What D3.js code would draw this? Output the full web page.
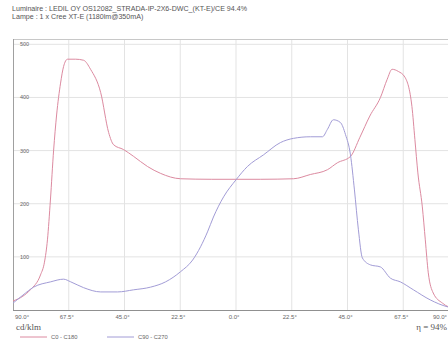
<!DOCTYPE html>
<html>
<head>
<meta charset="utf-8">
<script src="https://cdn.jsdelivr.net/npm/d3@7"></script>
<style>
  html, body { margin: 0; padding: 0; background: #fff; }
  svg { display: block; }
</style>
</head>
<body>
<svg id="chart" width="448" height="343"></svg>
<script>
// Photometric curves in cd/klm, angle in degrees (left half negative)
const headerLines = [
  "Luminaire : LEDIL OY OS12082_STRADA-IP-2X6-DWC_(KT-E)/CE 94.4%",
  "Lampe : 1 x Cree XT-E (1180lm@350mA)"
];
const angleTicks = [-90, -67.5, -45, -22.5, 0, 22.5, 45, 67.5, 90];
const angleTickLabels = ["90.0°", "67.5°", "45.0°", "22.5°", "0.0°", "22.5°", "45.0°", "67.5°", "90.0°"];
const intensityTicks = [100, 200, 300, 400, 500];

const c0Angles = [-90, -86, -83, -78.9, -77.3, -76.1, -74.9, -73.6, -72.4, -70.8, -69.6, -68, -64.7, -61.5, -58.7, -54.6, -51.4, -49.4, -45.4, -41.3, -35.7, -30.4, -22.4, -10, 0, 10, 23.2, 30, 36.9, 40.9, 46.2, 50, 54, 58.3, 61, 63, 65.5, 68.2, 71, 72.2, 73.4, 75.2, 76.4, 77.6, 79.6, 83.3, 85.7, 90];
const c0Values = [17, 26, 38, 66, 90, 132, 207, 301, 367, 427, 458, 472, 472, 470, 453, 409, 334, 311, 302, 289, 270, 257, 247, 246, 246, 246, 247, 255, 264, 277, 289, 325, 365, 400, 434, 453, 449, 438, 383, 321, 258, 194, 132, 70, 32, 13, 6, 2];

const c90Angles = [-90, -86, -81.7, -74.8, -69.6, -66.7, -61.5, -54.6, -47.8, -41.3, -34.5, -28.4, -22.4, -17.5, -14.3, -11.5, -9.1, -5, 0, 4.6, 11.1, 17.9, 23.2, 30, 34.9, 36.9, 39.3, 42.1, 44.2, 46.2, 47.8, 49.4, 51, 54.2, 58.3, 62.3, 66.3, 71.6, 78.4, 85.3, 90];
const c90Values = [13, 28, 43, 53, 58, 53, 42, 34, 34, 38, 43, 53, 72, 94, 119, 147, 175, 213, 245, 270, 292, 315, 323, 326, 326, 340, 358, 353, 330, 292, 226, 151, 98, 85, 81, 60, 53, 38, 19, 6, 2];

const legendLabels = ["C0 - C180", "C90 - C270"];
const seriesColors = ["#dc8aa0", "#a29cd6"];

const svg = d3.select("#chart");
const plot = { left: 13, right: 459, top: 39, bottom: 310 };

const x = d3.scaleLinear().domain([-90, 90]).range([plot.left, plot.right]);
const y = d3.scaleLinear().domain([0, 510]).range([plot.bottom, plot.top]);

// header text
svg.selectAll("text.header").data(headerLines).join("text")
  .attr("class", "header")
  .attr("x", 12).attr("y", (d, i) => 11 + i * 8)
  .attr("font-family", "Liberation Sans, Arial, sans-serif")
  .attr("font-size", 7.1).attr("fill", "#555")
  .text(d => d);

// grid
const grid = svg.append("g");
grid.selectAll("line.h").data(intensityTicks).join("line")
  .attr("x1", plot.left).attr("x2", 448)
  .attr("y1", d => y(d)).attr("y2", d => y(d))
  .attr("stroke", "#e3e3e3").attr("stroke-width", 1);
grid.selectAll("line.v").data(angleTicks.slice(1, -1)).join("line")
  .attr("x1", d => x(d)).attr("x2", d => x(d))
  .attr("y1", plot.top).attr("y2", plot.bottom)
  .attr("stroke", "#e3e3e3").attr("stroke-width", 1);

// frame
svg.append("line").attr("x1", plot.left).attr("x2", 448).attr("y1", plot.top + 0.5).attr("y2", plot.top + 0.5)
  .attr("stroke", "#c8c8c8");
svg.append("line").attr("x1", plot.left + 0.5).attr("x2", plot.left + 0.5).attr("y1", plot.top).attr("y2", plot.bottom)
  .attr("stroke", "#a0a0a0");
svg.append("line").attr("x1", plot.left).attr("x2", 448).attr("y1", plot.bottom + 0.5).attr("y2", plot.bottom + 0.5)
  .attr("stroke", "#909090");

// intensity labels inside the frame
svg.selectAll("text.ylab").data(intensityTicks).join("text")
  .attr("class", "ylab")
  .attr("x", 20).attr("y", d => y(d) + 2)
  .attr("font-family", "Liberation Sans, Arial, sans-serif")
  .attr("font-size", 5.5).attr("fill", "#666")
  .text(d => d);

// angle labels; the two end labels are pulled inside the drawing area
svg.selectAll("text.xlab").data(angleTicks).join("text")
  .attr("class", "xlab")
  .attr("x", (d, i) => i === 0 ? x(d) + 2 : i === angleTicks.length - 1 ? 447 : x(d) - 2)
  .attr("y", 319)
  .attr("text-anchor", (d, i) => i === 0 ? "start" : i === angleTicks.length - 1 ? "end" : "middle")
  .attr("font-family", "Liberation Sans, Arial, sans-serif")
  .attr("font-size", 6).attr("fill", "#666")
  .text((d, i) => angleTickLabels[i]);

// curves
const line = d3.line().x(d => x(d[0])).y(d => y(d[1])).curve(d3.curveMonotoneX);
const series = [
  d3.zip(c0Angles, c0Values),
  d3.zip(c90Angles, c90Values)
];
svg.append("defs").append("clipPath").attr("id", "clip")
  .append("rect").attr("x", plot.left).attr("y", plot.top).attr("width", 448 - plot.left).attr("height", plot.bottom - plot.top);
svg.append("g").attr("clip-path", "url(#clip)")
  .selectAll("path").data(series).join("path")
  .attr("d", line)
  .attr("fill", "none")
  .attr("stroke", (d, i) => seriesColors[i])
  .attr("stroke-width", 1);

// unit and efficiency
svg.append("text").attr("x", 16).attr("y", 330)
  .attr("font-family", "Liberation Serif, Times New Roman, serif")
  .attr("font-size", 9).attr("fill", "#555").text("cd/klm");
svg.append("text").attr("x", 447).attr("y", 330).attr("text-anchor", "end")
  .attr("font-family", "Liberation Serif, Times New Roman, serif")
  .attr("font-size", 9).attr("fill", "#555").text("η = 94%");

// legend
const legendX = [20, 107];
const lg = svg.append("g");
legendLabels.forEach((lab, i) => {
  lg.append("line").attr("x1", legendX[i]).attr("x2", legendX[i] + 27)
    .attr("y1", 337).attr("y2", 337)
    .attr("stroke", seriesColors[i]).attr("stroke-width", 1);
  lg.append("text").attr("x", legendX[i] + 31).attr("y", 339)
    .attr("font-family", "Liberation Sans, Arial, sans-serif")
    .attr("font-size", 5.8).attr("fill", "#666").text(lab);
});
</script>
</body>
</html>
